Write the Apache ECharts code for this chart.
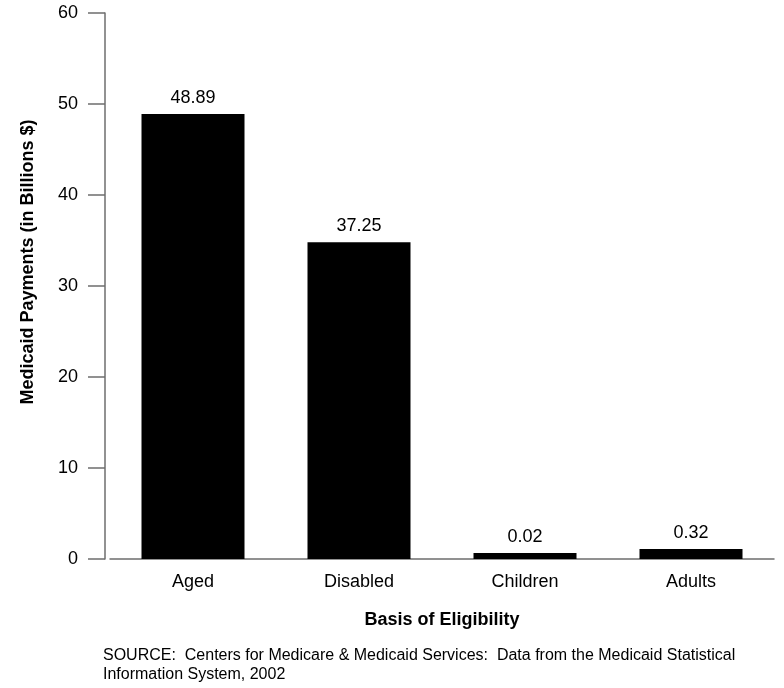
<!DOCTYPE html>
<html lang="en">
	<head>
		<meta charset="UTF-8" />
		<title>Medicaid Payments by Basis of Eligibility</title>
		<script src="https://cdn.jsdelivr.net/npm/echarts@6/dist/echarts.min.js"></script>
		<style>
			html, body { margin: 0; padding: 0; background: #fff; }
			#chart { width: 784px; height: 688px; }
		</style>
	</head>
	<body>
		<div id="chart"></div>
		<script>
			// data
			// note: the printed labels do not match the drawn bar heights in the source,
			// so bar heights and label texts are kept apart
			const categories = ['Aged', 'Disabled', 'Children', 'Adults']
			const barHeights = [48.89, 34.8, 0.65, 1.1]
			const labelTexts = ['48.89', '37.25', '0.02', '0.32']
			const yTicks = [0, 10, 20, 30, 40, 50, 60]

			const font = '"Liberation Sans", Arial, Helvetica, sans-serif'
			const axisGray = '#6e6e6e'

			const chart = echarts.init(document.getElementById('chart'), null, { renderer: 'canvas' })

			const option = {
				animation: false,
				textStyle: { fontFamily: font, color: '#000' },
				title: {
					text: 'SOURCE:  Centers for Medicare & Medicaid Services:  Data from the Medicaid Statistical\nInformation System, 2002',
					left: 98,
					top: 641,
					textStyle: { fontFamily: font, fontSize: 16, fontWeight: 'normal', color: '#000', lineHeight: 19 }
				},
				grid: { left: 110, top: 13, width: 664, bottom: 129 },
				xAxis: {
					type: 'category',
					data: categories,
					name: 'Basis of Eligibility',
					nameLocation: 'middle',
					nameGap: 52,
					nameTextStyle: { fontFamily: font, fontSize: 18, fontWeight: 'bold', color: '#000' },
					axisLine: { lineStyle: { color: axisGray, width: 1.5 } },
					axisTick: { show: false },
					axisLabel: { fontFamily: font, fontSize: 18, color: '#000', margin: 14 }
				},
				yAxis: {
					type: 'value',
					min: yTicks[0],
					max: yTicks[yTicks.length - 1],
					interval: 10,
					offset: 5,
					name: 'Medicaid Payments (in Billions $)',
					nameLocation: 'middle',
					nameGap: 68,
					nameTextStyle: { fontFamily: font, fontSize: 18, fontWeight: 'bold', color: '#000', padding: [0, 0, 0, 48] },
					axisLine: { show: true, lineStyle: { color: axisGray, width: 1.5 } },
					axisTick: { show: true, length: 17, lineStyle: { color: axisGray, width: 1.5 } },
					axisLabel: { fontFamily: font, fontSize: 18, color: '#000', margin: 27 },
					splitLine: { show: false }
				},
				series: [
					{
						type: 'bar',
						data: barHeights,
						barWidth: 103,
						itemStyle: { color: '#000' },
						label: {
							show: true,
							position: 'top',
							distance: 7,
							fontFamily: font,
							fontSize: 18,
							color: '#000',
							formatter: function (p) { return labelTexts[p.dataIndex] }
						}
					}
				]
			}
			chart.setOption(option)
		</script>
	</body>
</html>
